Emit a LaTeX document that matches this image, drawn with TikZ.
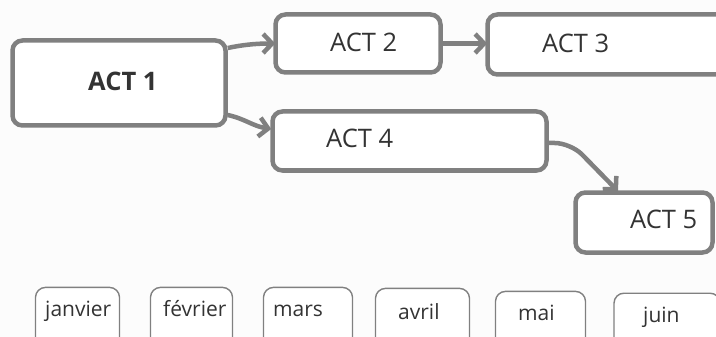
\documentclass[tikz,border=0pt]{standalone}
\usepackage{fontspec}
\setmainfont{Open Sans}
\usetikzlibrary{arrows.meta,calc}
\definecolor{bordergray}{HTML}{808080}
\definecolor{textgray}{HTML}{333333}
\definecolor{bggray}{HTML}{FCFCFC}
\begin{document}
\begin{tikzpicture}[x=1pt,y=-1pt,
  actbox/.style={draw=bordergray, line width=4.5pt, rounded corners=10pt, fill=white, inner sep=0pt},
  acttext/.style={text=textgray, font=\fontsize{25.5}{30}\selectfont, anchor=base west, inner sep=0pt},
  actbold/.style={acttext, font=\bfseries\fontsize{25.5}{30}\selectfont},
  arr/.style={draw=bordergray, line width=4.5pt, -{Straight Barb[length=9pt,width=19pt]}},
  monthbox/.style={draw=bordergray, line width=1.4pt, rounded corners=10pt, fill=white, anchor=north, minimum height=80pt, inner sep=0pt},
  monthtext/.style={text=textgray, font=\fontsize{21}{25}\selectfont, anchor=base west, inner sep=0pt}]
\clip (0,0) rectangle (716,337);
\fill[bggray] (0,0) rectangle (716,337);

% activity boxes
\node[actbox, minimum width=213pt, minimum height=85pt] (a1) at (119,83) {};
\node[actbold] (t1) at (88,91) {ACT 1};
\node[actbox, minimum width=165pt, minimum height=58pt] (a2) at (358,43.5) {};
\node[acttext] (t2) at (330,52) {ACT 2};
\node[actbox, minimum width=242pt, minimum height=60pt] (a3) at (608.5,44.5) {};
\node[acttext] (t3) at (542,53) {ACT 3};
\node[actbox, minimum width=274pt, minimum height=59pt] (a4) at (409.5,141) {};
\node[acttext] (t4) at (326,148) {ACT 4};
\node[actbox, minimum width=137pt, minimum height=60pt] (a5) at (644,222.5) {};
\node[acttext] (t5) at (630,229) {ACT 5};

% connectors
\draw[arr] ($(a1.east)+(0,-35)$) .. controls ($(a1.east)+(14,-38)$) and ($(a2.west)+(-18,0)$) .. ($(a2.west)+(2,0)$);
\draw[arr] ($(a1.east)+(0,32)$) .. controls ($(a1.east)+(18,36)$) and ($(a4.west)+(-18,-15)$) .. ($(a4.west)+(1,-12)$);
\draw[arr] (a2.east) -- ($(a2.east -| a3.west)+(2,0)$);
\draw[arr, rounded corners=16pt] ($(a4.east)+(0,2)$) -- ($(a4.east)+(22,2)$) -- ($(a5.north)+(-26,1)$);

% months
\node[monthbox, minimum width=84pt] (m1) at (77.5,286.7) {};
\node[monthtext] (n1) at (45,316) {janvier};
\node[monthbox, minimum width=82pt] (m2) at (191.5,286.7) {};
\node[monthtext] (n2) at (163,316) {février};
\node[monthbox, minimum width=89pt] (m3) at (308,286.7) {};
\node[monthtext] (n3) at (273,316) {mars};
\node[monthbox, minimum width=94pt] (m4) at (422.5,287.7) {};
\node[monthtext] (n4) at (398,319) {avril};
\node[monthbox, minimum width=90pt] (m5) at (540.5,290.7) {};
\node[monthtext] (n5) at (518,320) {mai};
\node[monthbox, minimum width=106pt] (m6) at (667,292.5) {};
\node[monthtext] (n6) at (643,322) {juin};
\end{tikzpicture}
\end{document}
